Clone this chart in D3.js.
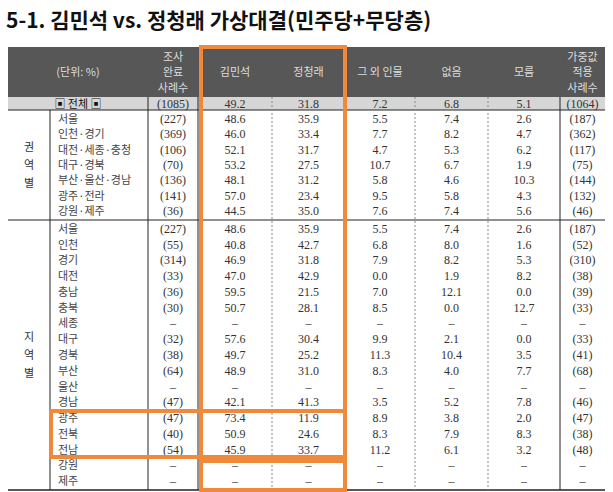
<!DOCTYPE html>
<html><head><meta charset="utf-8">
<script src="https://cdn.jsdelivr.net/npm/d3@7"></script>
<style>body{margin:0;background:#fff}</style>
</head><body>
<svg id="t" width="613" height="492"></svg>
<script>
const headers = ['조사\n완료\n사례수', '김민석', '정청래', '그 외 인물', '없음', '모름', '가중값\n적용\n사례수'];
const totalRow = ['(1085)', '49.2', '31.8', '7.2', '6.8', '5.1', '(1064)'];

const regionLabels = ['서울', '인천·경기', '대전·세종·충청', '대구·경북', '부산·울산·경남', '광주·전라', '강원·제주'];
const regionRows = [
  ['(227)', '48.6', '35.9', '5.5', '7.4', '2.6', '(187)'],
  ['(369)', '46.0', '33.4', '7.7', '8.2', '4.7', '(362)'],
  ['(106)', '52.1', '31.7', '4.7', '5.3', '6.2', '(117)'],
  ['(70)', '53.2', '27.5', '10.7', '6.7', '1.9', '(75)'],
  ['(136)', '48.1', '31.2', '5.8', '4.6', '10.3', '(144)'],
  ['(141)', '57.0', '23.4', '9.5', '5.8', '4.3', '(132)'],
  ['(36)', '44.5', '35.0', '7.6', '7.4', '5.6', '(46)']
];

const areaLabels = ['서울', '인천', '경기', '대전', '충남', '충북', '세종', '대구', '경북', '부산', '울산', '경남', '광주', '전북', '전남', '강원', '제주'];
const D = ['–', '–', '–', '–', '–', '–', '–'];
const areaRows = [
  ['(227)', '48.6', '35.9', '5.5', '7.4', '2.6', '(187)'],
  ['(55)', '40.8', '42.7', '6.8', '8.0', '1.6', '(52)'],
  ['(314)', '46.9', '31.8', '7.9', '8.2', '5.3', '(310)'],
  ['(33)', '47.0', '42.9', '0.0', '1.9', '8.2', '(38)'],
  ['(36)', '59.5', '21.5', '7.0', '12.1', '0.0', '(39)'],
  ['(30)', '50.7', '28.1', '8.5', '0.0', '12.7', '(33)'],
  D,
  ['(32)', '57.6', '30.4', '9.9', '2.1', '0.0', '(33)'],
  ['(38)', '49.7', '25.2', '11.3', '10.4', '3.5', '(41)'],
  ['(64)', '48.9', '31.0', '8.3', '4.0', '7.7', '(68)'],
  D,
  ['(47)', '42.1', '41.3', '3.5', '5.2', '7.8', '(46)'],
  ['(47)', '73.4', '11.9', '8.9', '3.8', '2.0', '(47)'],
  ['(40)', '50.9', '24.6', '8.3', '7.9', '8.3', '(38)'],
  ['(54)', '45.9', '33.7', '11.2', '6.1', '3.2', '(48)'],
  D, D
];

const svg = d3.select('#t');
const kr = "'Noto Sans CJK KR', sans-serif";
const num = "'Liberation Serif', serif";
const orange = '#f08a3a';

// column edges
const edges = [148, 198, 272, 345, 415, 488, 560, 605];
const cx = i => (edges[i] + edges[i + 1]) / 2;

svg.append('text').attr('x', 6).attr('y', 28).text('5-1. 김민석 vs. 정청래 가상대결(민주당+무당층)')
  .attr('font-family', kr).attr('font-weight', 700).attr('font-size', 21).attr('fill', '#111');

// header
svg.append('rect').attr('x', 8).attr('y', 47).attr('width', 597).attr('height', 50).attr('fill', '#575757');
svg.append('text').attr('x', 78).attr('y', 76).attr('text-anchor', 'middle').text('(단위: %)')
  .attr('font-family', kr).attr('font-size', 11).attr('fill', '#ddd');
headers.forEach((h, i) => {
  const lines = h.split('\n');
  const t = svg.append('text').attr('text-anchor', 'middle').attr('font-family', kr).attr('font-size', 11).attr('fill', '#ddd');
  lines.forEach((l, j) => t.append('tspan').attr('x', cx(i)).attr('y', 76 + (j - (lines.length - 1) / 2) * 15.5).text(l));
});

// total row
svg.append('rect').attr('x', 8).attr('y', 97).attr('width', 597).attr('height', 13).attr('fill', '#d6d6d6');
svg.append('text').attr('x', 78).attr('y', 108).attr('text-anchor', 'middle').text('▣ 전체 ▣')
  .attr('font-family', kr).attr('font-size', 11).attr('fill', '#111');

function rowText(vals, y) {
  vals.forEach((v, i) => svg.append('text').attr('x', cx(i)).attr('y', y).attr('text-anchor', 'middle')
    .attr('font-family', num).attr('font-size', 12).attr('fill', '#333').text(v));
}
rowText(totalRow, 108);

const y1 = d3.scaleLinear().domain([0, regionLabels.length]).range([111, 219]);
regionLabels.forEach((l, i) => {
  const y = y1(i + 0.5) + 4;
  svg.append('text').attr('x', 58).attr('y', y).text(l).attr('font-family', kr).attr('font-size', 11).attr('fill', '#444');
  rowText(regionRows[i], y);
});
const y2 = d3.scaleLinear().domain([0, areaLabels.length]).range([221, 489]);
areaLabels.forEach((l, i) => {
  const y = y2(i + 0.5) + 4;
  svg.append('text').attr('x', 58).attr('y', y).text(l).attr('font-family', kr).attr('font-size', 11).attr('fill', '#444');
  rowText(areaRows[i], y);
});

// group labels
[['권', '역', '별', 165, 18], ['지', '역', '별', 355, 18]].forEach(g => {
  [0, 1, 2].forEach(k => svg.append('text').attr('x', 29).attr('y', g[3] + (k - 1) * g[4] + 4)
    .attr('text-anchor', 'middle').attr('font-family', kr).attr('font-size', 11).attr('fill', '#333').text(g[k]));
});

// grid lines
const line = (x1, y1_, x2, y2_, dash, w) => svg.append('line').attr('x1', x1).attr('y1', y1_).attr('x2', x2).attr('y2', y2_)
  .attr('stroke', dash ? '#888' : '#222').attr('stroke-width', w || 1).attr('stroke-dasharray', dash ? '2,2' : null);
line(8, 110, 605, 110); line(8, 220, 605, 220); line(8, 490, 605, 490, false, 1.5);
line(50, 110, 50, 490);
[148, 198, 560].forEach(x => line(x, 97, x, 490));
[272, 345, 415, 488].forEach(x => line(x, 97, x, 490, true));

// highlight boxes
const box = (x, y, w, h) => svg.append('rect').attr('x', x).attr('y', y).attr('width', w).attr('height', h)
  .attr('fill', 'none').attr('stroke', orange).attr('stroke-width', 4);
box(201, 47, 144, 364);
box(201, 411, 144, 46);
box(51, 411, 150, 46);
box(201, 461, 144, 29);
</script>
</body></html>
